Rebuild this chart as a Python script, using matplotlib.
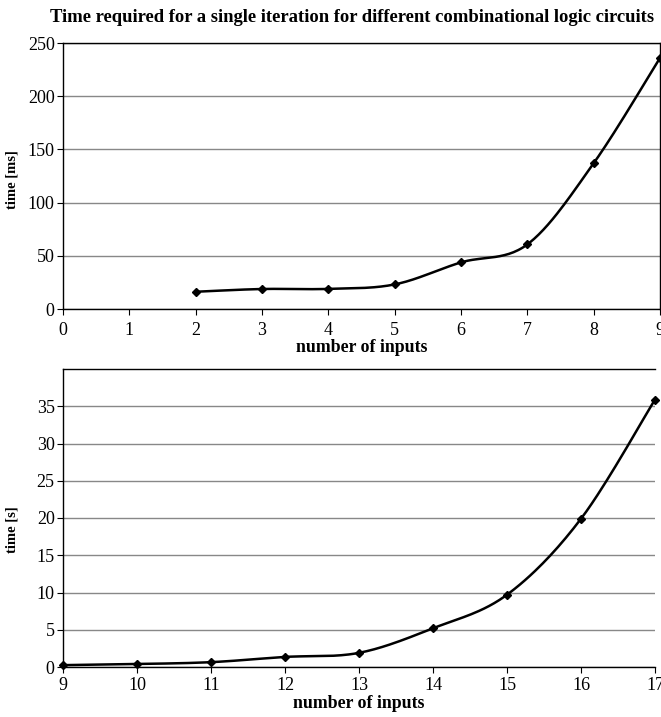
import numpy as np
import matplotlib
matplotlib.use("Agg")
import matplotlib.pyplot as plt

plt.rcParams["font.family"] = ["Liberation Serif", "DejaVu Serif"]

# data
inputs_small = [2, 3, 4, 5, 6, 7, 8, 9]
time_ms = [16.2, 18.8, 18.9, 23.1, 43.8, 60.7, 137, 236]

inputs_large = [9, 10, 11, 12, 13, 14, 15, 16, 17]
time_s = [0.25, 0.4, 0.65, 1.35, 1.9, 5.2, 9.7, 19.9, 35.9]


def smooth(x, y, n=30):
    # Excel style smoothed line (Catmull-Rom via cubic Bezier)
    x = np.asarray(x, float)
    y = np.asarray(y, float)
    px = np.concatenate([[x[0]], x, [x[-1]]])
    py = np.concatenate([[y[0]], y, [y[-1]]])
    xs, ys = [], []
    t = np.linspace(0, 1, n)
    for i in range(1, len(px) - 2):
        p0 = np.array([px[i - 1], py[i - 1]])
        p1 = np.array([px[i], py[i]])
        p2 = np.array([px[i + 1], py[i + 1]])
        p3 = np.array([px[i + 2], py[i + 2]])
        c1 = p1 + (p2 - p0) / 6
        c2 = p2 - (p3 - p1) / 6
        pts = ((1 - t) ** 3)[:, None] * p1 + (3 * (1 - t) ** 2 * t)[:, None] * c1 \
            + (3 * (1 - t) * t ** 2)[:, None] * c2 + (t ** 3)[:, None] * p2
        xs.extend(pts[:, 0])
        ys.extend(pts[:, 1])
    return xs, ys


fig = plt.figure(figsize=(6.61, 7.17), dpi=100)
ax1 = fig.add_axes([63 / 661, 1 - 309 / 717, 597 / 661, 266 / 717])
ax2 = fig.add_axes([63 / 661, 1 - 667 / 717, 592 / 661, 298 / 717])

fig.text(0.532, 0.975, "Time required for a single iteration for different combinational logic circuits",
         ha="center", va="center", fontsize=13.4, fontweight="bold")

# top chart
sx, sy = smooth(inputs_small, time_ms)
ax1.plot(sx, sy, color="black", lw=1.8, clip_on=False)
ax1.plot(inputs_small, time_ms, "D", color="black", ms=4.5, clip_on=False)
ax1.set_xlim(0, 9)
ax1.set_ylim(0, 250)
ax1.set_xticks(range(0, 10))
ax1.set_yticks(range(0, 251, 50))
ax1.xaxis.set_label_coords(0.523, -0.143)
ax1.set_xlabel("number of inputs", fontsize=12.8, fontweight="bold", va="center")

# bottom chart
sx, sy = smooth(inputs_large, time_s)
ax2.plot(sx, sy, color="black", lw=1.8, clip_on=False)
ax2.plot(inputs_large, time_s, "D", color="black", ms=4.5, clip_on=False)
ax2.set_xlim(9, 17)
ax2.set_ylim(0, 40)
ax2.set_xticks(range(9, 18))
ax2.set_yticks(range(0, 36, 5))
ax2.spines["right"].set_visible(False)
ax2.xaxis.set_label_coords(0.522, -0.123)
ax2.set_xlabel("number of inputs", fontsize=12.8, fontweight="bold", va="center")

for ax in (ax1, ax2):
    ax.set_axisbelow(True)
    ax.yaxis.grid(True, color="#888888", lw=1)
    ax.tick_params(direction="out", length=4, width=0.8, labelsize=13, pad=2)
for ax, p in ((ax1, 5), (ax2, 3)):
    ax.tick_params(axis="x", pad=p)
    for s in ax.spines.values():
        s.set_linewidth(1)

fig.text(0.018, 1 - 180 / 717, "time [ms]", rotation=90, ha="center", va="center",
         fontsize=10.5, fontweight="bold")
fig.text(0.018, 1 - 530 / 717, "time [s]", rotation=90, ha="center", va="center",
         fontsize=10.5, fontweight="bold")

fig.savefig("out.png", dpi=100)
